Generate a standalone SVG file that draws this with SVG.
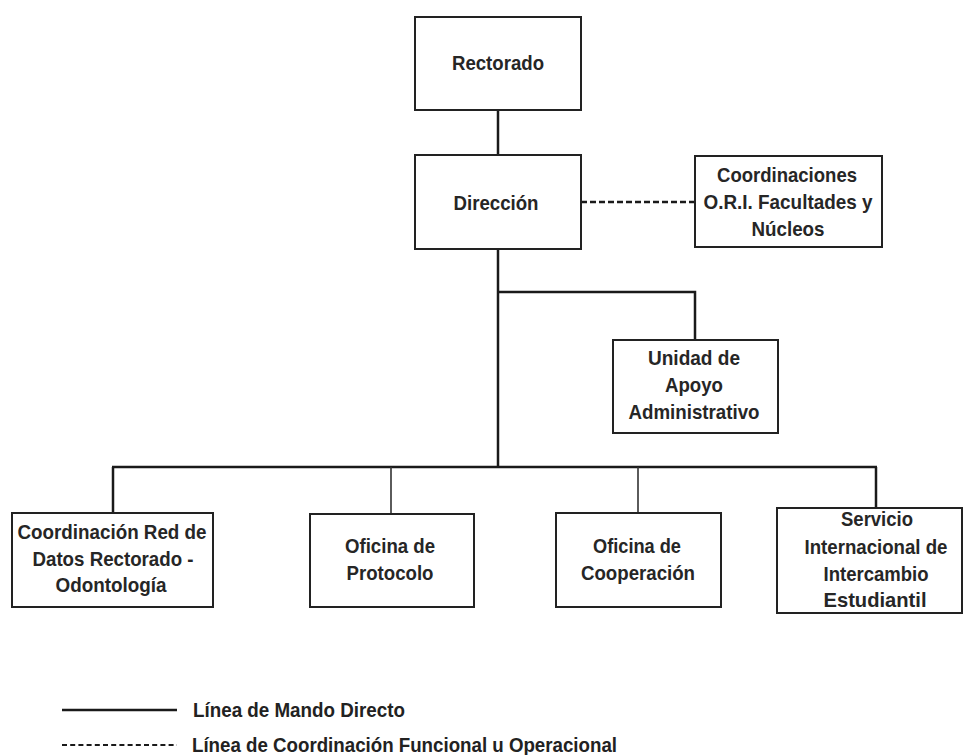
<svg xmlns="http://www.w3.org/2000/svg" width="966" height="755" viewBox="0 0 966 755">
<style>
.box{fill:#fff;stroke:#222;stroke-width:2}
.t{font-family:"Liberation Sans",Arial,sans-serif;font-weight:bold;font-size:20.5px;fill:#262626;text-anchor:middle}
.tl{font-family:"Liberation Sans",Arial,sans-serif;font-weight:bold;font-size:21px;fill:#222}
.solid{fill:none;stroke:#1a1a1a;stroke-width:2.5}
.thin{fill:none;stroke:#333;stroke-width:1.6}
.dash{fill:none;stroke:#1a1a1a;stroke-width:2.5;stroke-dasharray:6 3}
</style>
<rect width="966" height="755" fill="#fff"/>
<g id="connectors">
<line class="solid" x1="498" y1="110" x2="498" y2="155"/>
<line class="solid" x1="498" y1="249" x2="498" y2="467"/>
<polyline class="solid" points="498,292 695,292 695,340"/>
<line class="solid" x1="112" y1="467" x2="877" y2="467"/>
<line class="solid" x1="113" y1="467" x2="113" y2="513"/>
<line class="thin" x1="391" y1="467" x2="391" y2="514"/>
<line class="thin" x1="638" y1="467" x2="638" y2="513"/>
<line class="solid" x1="876" y1="467" x2="876" y2="508"/>
<line class="dash" x1="581" y1="202" x2="695" y2="202"/>
</g>
<g id="rectorado">
<rect class="box" x="415" y="17" width="166" height="93"/>
<text class="t" x="498" y="70" textLength="92" lengthAdjust="spacingAndGlyphs">Rectorado</text>
</g>
<g id="direccion">
<rect class="box" x="415" y="155" width="166" height="94"/>
<text class="t" x="496" y="210" textLength="85" lengthAdjust="spacingAndGlyphs">Dirección</text>
</g>
<g id="coordinaciones">
<rect class="box" x="695" y="156" width="187" height="91"/>
<text class="t" x="787" y="182" textLength="140" lengthAdjust="spacingAndGlyphs">Coordinaciones</text>
<text class="t" x="788" y="209" textLength="169" lengthAdjust="spacingAndGlyphs">O.R.I. Facultades y</text>
<text class="t" x="788" y="236" textLength="73" lengthAdjust="spacingAndGlyphs">Núcleos</text>
</g>
<g id="unidad">
<rect class="box" x="613" y="340" width="165" height="93"/>
<text class="t" x="694" y="365" textLength="92" lengthAdjust="spacingAndGlyphs">Unidad de</text>
<text class="t" x="694" y="392" textLength="58" lengthAdjust="spacingAndGlyphs">Apoyo</text>
<text class="t" x="694" y="419" textLength="131" lengthAdjust="spacingAndGlyphs">Administrativo</text>
</g>
<g id="coordinacion-red">
<rect class="box" x="12" y="513" width="201" height="94"/>
<text class="t" x="112" y="539" textLength="189" lengthAdjust="spacingAndGlyphs">Coordinación Red de</text>
<text class="t" x="113" y="566" textLength="161" lengthAdjust="spacingAndGlyphs">Datos Rectorado -</text>
<text class="t" x="111" y="592" textLength="111" lengthAdjust="spacingAndGlyphs">Odontología</text>
</g>
<g id="protocolo">
<rect class="box" x="310" y="514" width="164" height="93"/>
<text class="t" x="390" y="553" textLength="90" lengthAdjust="spacingAndGlyphs">Oficina de</text>
<text class="t" x="390" y="580" textLength="87" lengthAdjust="spacingAndGlyphs">Protocolo</text>
</g>
<g id="cooperacion">
<rect class="box" x="556" y="513" width="165" height="94"/>
<text class="t" x="637" y="553" textLength="88" lengthAdjust="spacingAndGlyphs">Oficina de</text>
<text class="t" x="638" y="580" textLength="114" lengthAdjust="spacingAndGlyphs">Cooperación</text>
</g>
<g id="servicio">
<rect class="box" x="777" y="508" width="185" height="105"/>
<text class="t" x="877" y="526" textLength="72" lengthAdjust="spacingAndGlyphs">Servicio</text>
<text class="t" x="876" y="554" textLength="143" lengthAdjust="spacingAndGlyphs">Internacional de</text>
<text class="t" x="876" y="581" textLength="105" lengthAdjust="spacingAndGlyphs">Intercambio</text>
<text class="t" x="875" y="607" textLength="103" lengthAdjust="spacingAndGlyphs">Estudiantil</text>
</g>
<g id="legend">
<line class="solid" x1="62" y1="710" x2="177" y2="710"/>
<text class="tl" x="193" y="717" textLength="212" lengthAdjust="spacingAndGlyphs">Línea de Mando Directo</text>
<line x1="62" y1="745" x2="177" y2="745" stroke="#1a1a1a" stroke-width="1.8" stroke-dasharray="5 3.2"/>
<text class="tl" x="192" y="752" textLength="425" lengthAdjust="spacingAndGlyphs">Línea de Coordinación Funcional u Operacional</text>
</g>
</svg>
